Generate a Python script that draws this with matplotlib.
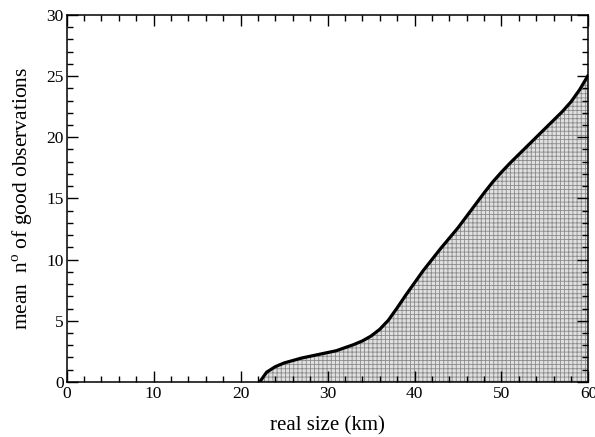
import matplotlib
matplotlib.use("Agg")
import matplotlib.pyplot as plt
from matplotlib.ticker import MultipleLocator

plt.rcParams['font.family'] = ['Liberation Serif', 'DejaVu Serif']
plt.rcParams['mathtext.fontset'] = 'custom'
plt.rcParams['mathtext.rm'] = 'Liberation Serif'
plt.rcParams['hatch.linewidth'] = 0.6
plt.rcParams['hatch.color'] = '#8a8a8a'

size_km = [22.2, 23, 24, 25, 26, 27, 28, 29, 30, 31, 32, 33, 34, 35, 36,
           37, 38, 39, 40, 41, 42, 43, 44, 45, 46, 47, 48, 49, 50, 51, 52,
           53, 54, 55, 56, 57, 58, 59, 60]
mean_obs = [0.0, 0.8, 1.25, 1.55, 1.75, 1.95, 2.1, 2.25, 2.4, 2.55, 2.8,
            3.05, 3.35, 3.75, 4.3, 5.05, 6.05, 7.1, 8.1, 9.1, 10.0, 10.9,
            11.75, 12.6, 13.55, 14.5, 15.45, 16.35, 17.15, 17.9, 18.6, 19.3,
            20.0, 20.7, 21.4, 22.1, 22.9, 23.9, 25.1]

fig = plt.figure(figsize=(5.95, 4.37), dpi=100)
ax = fig.add_axes([0.112, 0.126, 0.877, 0.840])

ax.fill_between(size_km, 0, mean_obs, facecolor='#e0e0e0', edgecolor='#8a8a8a',
                hatch='++++', linewidth=0, zorder=1)
ax.plot(size_km, mean_obs, color='black', linewidth=2.3, zorder=3,
        solid_capstyle='butt', solid_joinstyle='round')

ax.set_xlim(0, 60)
ax.set_ylim(0, 30)
ax.xaxis.set_major_locator(MultipleLocator(10))
ax.xaxis.set_minor_locator(MultipleLocator(2))
ax.yaxis.set_major_locator(MultipleLocator(5))
ax.yaxis.set_minor_locator(MultipleLocator(1))
ax.tick_params(which='both', direction='in', top=True, right=True, width=1.0,
               labelsize=12.5)
ax.tick_params(which='major', length=8)
ax.tick_params(which='minor', length=4)
ax.tick_params(axis='y', pad=2)
ax.tick_params(axis='x', pad=3)
for s in ax.spines.values():
    s.set_linewidth(1.1)

ax.set_xlabel('real size (km)', fontsize=15, labelpad=10)
ax.set_ylabel(r'mean  n$^{\mathrm{o}}$ of good observations', fontsize=15.5,
              labelpad=8)

fig.savefig('out.png', dpi=100)
